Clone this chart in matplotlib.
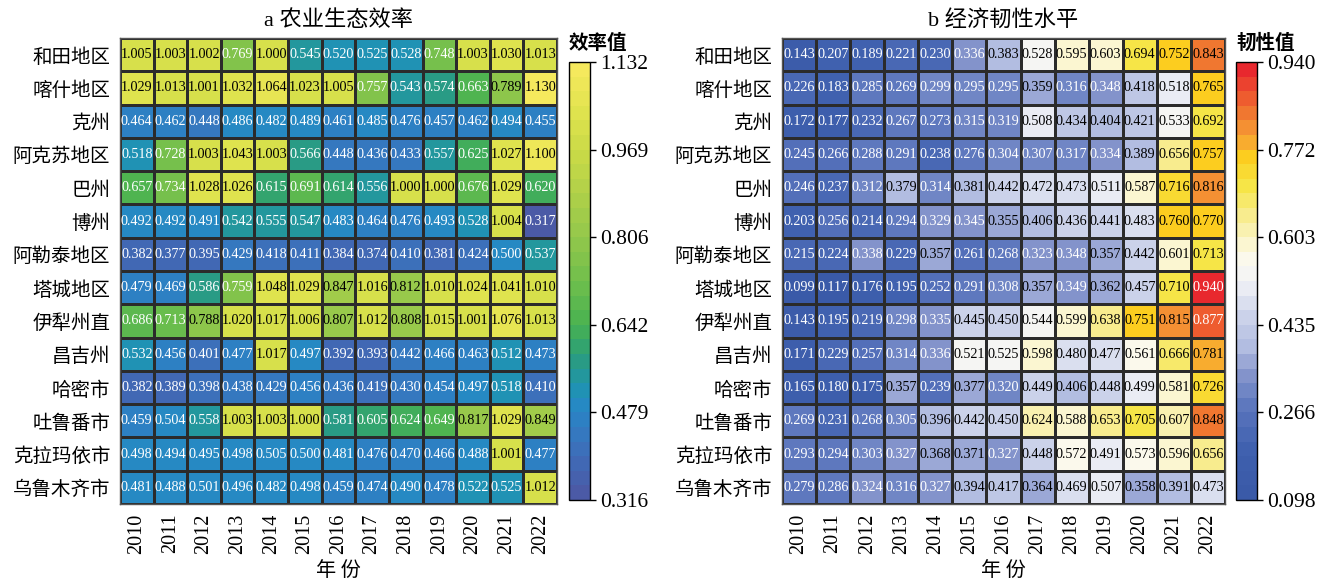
import numpy as np
import matplotlib
matplotlib.use('Agg')
import matplotlib.pyplot as plt
from matplotlib.colors import LinearSegmentedColormap, Normalize

plt.rcParams['font.family'] = ['Liberation Serif', 'Noto Sans CJK SC']

years = [str(y) for y in range(2010, 2023)]
regions = ['和田地区', '喀什地区', '克州', '阿克苏地区', '巴州', '博州', '阿勒泰地区',
           '塔城地区', '伊犁州直', '昌吉州', '哈密市', '吐鲁番市', '克拉玛依市', '乌鲁木齐市']

# a: agricultural eco-efficiency
eff = np.array([
    [1.005, 1.003, 1.002, 0.769, 1.000, 0.545, 0.520, 0.525, 0.528, 0.748, 1.003, 1.030, 1.013],
    [1.029, 1.013, 1.001, 1.032, 1.064, 1.023, 1.005, 0.757, 0.543, 0.574, 0.663, 0.789, 1.130],
    [0.464, 0.462, 0.448, 0.486, 0.482, 0.489, 0.461, 0.485, 0.476, 0.457, 0.462, 0.494, 0.455],
    [0.518, 0.728, 1.003, 1.043, 1.003, 0.566, 0.448, 0.436, 0.433, 0.557, 0.625, 1.027, 1.100],
    [0.657, 0.734, 1.028, 1.026, 0.615, 0.691, 0.614, 0.556, 1.000, 1.000, 0.676, 1.029, 0.620],
    [0.492, 0.492, 0.491, 0.542, 0.555, 0.547, 0.483, 0.464, 0.476, 0.493, 0.528, 1.004, 0.317],
    [0.382, 0.377, 0.395, 0.429, 0.418, 0.411, 0.384, 0.374, 0.410, 0.381, 0.424, 0.500, 0.537],
    [0.479, 0.469, 0.586, 0.759, 1.048, 1.029, 0.847, 1.016, 0.812, 1.010, 1.024, 1.041, 1.010],
    [0.686, 0.713, 0.788, 1.020, 1.017, 1.006, 0.807, 1.012, 0.808, 1.015, 1.001, 1.076, 1.013],
    [0.532, 0.456, 0.401, 0.477, 1.017, 0.497, 0.392, 0.393, 0.442, 0.466, 0.463, 0.512, 0.473],
    [0.382, 0.389, 0.398, 0.438, 0.429, 0.456, 0.436, 0.419, 0.430, 0.454, 0.497, 0.518, 0.410],
    [0.459, 0.504, 0.558, 1.003, 1.003, 1.000, 0.581, 0.605, 0.624, 0.649, 0.817, 1.029, 0.849],
    [0.498, 0.494, 0.495, 0.498, 0.505, 0.500, 0.481, 0.476, 0.470, 0.466, 0.488, 1.001, 0.477],
    [0.481, 0.488, 0.501, 0.496, 0.482, 0.498, 0.459, 0.474, 0.490, 0.478, 0.522, 0.525, 1.012],
])

# b: economic resilience
res = np.array([
    [0.143, 0.207, 0.189, 0.221, 0.230, 0.336, 0.383, 0.528, 0.595, 0.603, 0.694, 0.752, 0.843],
    [0.226, 0.183, 0.285, 0.269, 0.299, 0.295, 0.295, 0.359, 0.316, 0.348, 0.418, 0.518, 0.765],
    [0.172, 0.177, 0.232, 0.267, 0.273, 0.315, 0.319, 0.508, 0.434, 0.404, 0.421, 0.533, 0.692],
    [0.245, 0.266, 0.288, 0.291, 0.238, 0.276, 0.304, 0.307, 0.317, 0.334, 0.389, 0.656, 0.757],
    [0.246, 0.237, 0.312, 0.379, 0.314, 0.381, 0.442, 0.472, 0.473, 0.511, 0.587, 0.716, 0.816],
    [0.203, 0.256, 0.214, 0.294, 0.329, 0.345, 0.355, 0.406, 0.436, 0.441, 0.483, 0.760, 0.770],
    [0.215, 0.224, 0.338, 0.229, 0.357, 0.261, 0.268, 0.323, 0.348, 0.357, 0.442, 0.601, 0.713],
    [0.099, 0.117, 0.176, 0.195, 0.252, 0.291, 0.308, 0.357, 0.349, 0.362, 0.457, 0.710, 0.940],
    [0.143, 0.195, 0.219, 0.298, 0.335, 0.445, 0.450, 0.544, 0.599, 0.638, 0.751, 0.815, 0.877],
    [0.171, 0.229, 0.257, 0.314, 0.336, 0.521, 0.525, 0.598, 0.480, 0.477, 0.561, 0.666, 0.781],
    [0.165, 0.180, 0.175, 0.357, 0.239, 0.377, 0.320, 0.449, 0.406, 0.448, 0.499, 0.581, 0.726],
    [0.269, 0.231, 0.268, 0.305, 0.396, 0.442, 0.450, 0.624, 0.588, 0.653, 0.705, 0.607, 0.848],
    [0.293, 0.294, 0.303, 0.327, 0.368, 0.371, 0.327, 0.448, 0.572, 0.491, 0.573, 0.596, 0.656],
    [0.279, 0.286, 0.324, 0.316, 0.327, 0.394, 0.417, 0.364, 0.469, 0.507, 0.358, 0.391, 0.473],
])

eff_range = (0.316, 1.132)
res_range = (0.098, 0.940)

eff_cmap = LinearSegmentedColormap.from_list('eff', [
    (0.0, '#4b5aa6'), (0.1, '#3d6fba'), (0.2, '#2787c6'), (0.25, '#1f94b0'),
    (0.3, '#26998c'), (0.35, '#35a56a'), (0.4, '#4ab251'), (0.5, '#70bf4c'),
    (0.6, '#92c74b'), (0.7, '#aed049'), (0.8, '#c9da47'), (0.9, '#e0e34e'),
    (1.0, '#f5e95d')], N=30)
res_cmap = LinearSegmentedColormap.from_list('res', [
    (0.0, '#3a5aa8'), (0.1, '#3f60ae'), (0.2, '#5a75bd'), (0.28, '#8595cc'),
    (0.34, '#b0bbe0'), (0.42, '#cdd4eb'), (0.5, '#f2f3f6'), (0.56, '#fcfaea'),
    (0.64, '#f8ee9e'), (0.72, '#f6e64a'), (0.79, '#fcd01e'), (0.84, '#f7a035'),
    (0.9, '#f07430'), (1.0, '#e8282e')], N=30)

W, H = 1336, 587
fig = plt.figure(figsize=(W / 100, H / 100), dpi=100)


def px(x0, y0, x1, y1):
    return [x0 / W, 1 - y1 / H, (x1 - x0) / W, (y1 - y0) / H]


def panel(hm_box, cb_box, data, rng, cmap, title, cb_title, dark_text):
    ax = fig.add_axes(px(*hm_box))
    norm = Normalize(*rng)
    mesh = ax.pcolormesh(data, cmap=cmap, norm=norm, edgecolors='#2b2b2b', linewidth=0.9)
    ax.set_xlim(0, data.shape[1])
    ax.set_ylim(data.shape[0], 0)
    ax.set_xticks(np.arange(len(years)) + 0.5)
    ax.set_xticklabels(years, rotation=90, fontsize=14.5)
    ax.set_yticks(np.arange(len(regions)) + 0.5)
    ax.set_yticklabels(regions, fontsize=14, family=['Noto Sans CJK SC'])
    ax.tick_params(length=0, pad=7)
    for s in ax.spines.values():
        s.set_color('#555555')
        s.set_linewidth(1)
    for i in range(data.shape[0]):
        for j in range(data.shape[1]):
            v = data[i, j]
            col = 'black' if dark_text(v) else 'white'
            ax.text(j + 0.5, i + 0.5, f'{v:.3f}', ha='center', va='center',
                    fontsize=10.2, color=col)
    ax.set_title(title, fontsize=16, pad=9)
    ax.set_xlabel('年 份', fontsize=14.5, family=['Noto Sans CJK SC'], labelpad=4)

    cax = fig.add_axes(px(*cb_box))
    cb = fig.colorbar(mesh, cax=cax)
    ticks = np.linspace(rng[0], rng[1], 6)
    cb.set_ticks(ticks)
    cb.set_ticklabels([f'{t:.3f}' for t in ticks])
    cax.tick_params(labelsize=15.5, length=4, width=1, color='black')
    cb.outline.set_linewidth(1)
    cb.outline.set_edgecolor('black')
    cax.text(0, 1.02, cb_title, transform=cax.transAxes, ha='left', va='bottom',
             fontsize=14, fontweight='bold', family=['Noto Sans CJK SC'])


panel((120, 38, 557, 504), (569, 62, 590, 500), eff, eff_range, eff_cmap,
      'a 农业生态效率', '效率值', lambda v: v >= 0.78)
panel((782, 38, 1225, 504), (1236, 62, 1257, 500), res, res_range, res_cmap,
      'b 经济韧性水平', '韧性值', lambda v: 0.355 <= v <= 0.86)

fig.savefig('out.png', dpi=100)
